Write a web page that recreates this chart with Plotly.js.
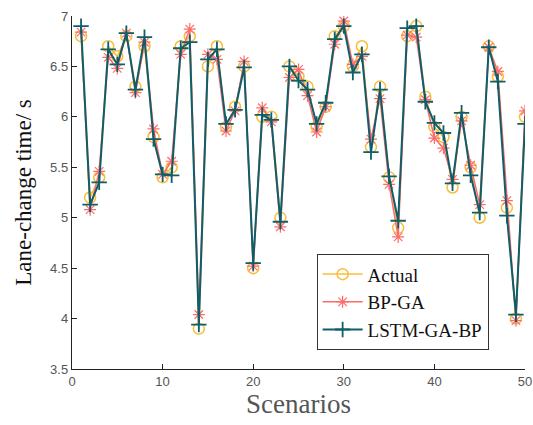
<!DOCTYPE html>
<html>
<head>
<meta charset="utf-8">
<script src="https://cdn.plot.ly/plotly-3.0.1.min.js"></script>
<style>html,body{margin:0;padding:0;background:#fff;}#chart{width:533px;height:425px;}</style>
</head>
<body>
<div id="chart"></div>
<script>
const scenarios = Array.from({length: 50}, (_, i) => i + 1);
const actual = [6.8,5.2,5.4,6.7,6.6,6.8,6.3,6.7,5.8,5.4,5.5,6.7,6.8,3.9,6.5,6.7,5.9,6.1,6.5,4.5,6.0,6.0,5.0,6.5,6.4,6.3,5.9,6.1,6.8,6.9,6.5,6.7,5.7,6.3,5.4,4.9,6.8,6.9,6.2,5.9,5.8,5.3,6.0,5.5,5.0,6.7,6.4,5.1,4.0,6.0];
const bpga = [6.84,5.08,5.46,6.59,6.48,6.83,6.24,6.74,5.88,5.43,5.56,6.62,6.87,4.04,6.62,6.57,5.86,6.06,6.55,4.52,6.09,5.95,4.91,6.39,6.47,6.21,5.85,6.10,6.72,6.95,6.52,6.60,5.78,6.18,5.33,4.81,6.81,6.79,6.17,5.79,5.69,5.38,5.96,5.52,5.13,6.69,6.45,5.17,3.98,6.06];
const lstm = [6.90,5.13,5.35,6.67,6.52,6.83,6.27,6.79,5.78,5.43,5.42,6.68,6.74,3.94,6.57,6.67,5.93,6.07,6.49,4.55,6.02,5.97,4.96,6.50,6.36,6.27,5.93,6.14,6.77,6.90,6.44,6.62,5.65,6.27,5.41,4.97,6.88,6.90,6.15,5.94,5.84,5.34,6.04,5.42,5.05,6.69,6.35,5.02,4.04,5.93];
const names = ['Actual', 'BP-GA', 'LSTM-GA-BP'];

const traces = [
  {x: scenarios, y: actual, name: names[0], mode: 'lines+markers',
   line: {color: '#F7BE3A', width: 1.5},
   marker: {symbol: 'circle-open', size: 11, color: '#F7BE3A', line: {width: 1.5}}},
  {x: scenarios, y: bpga, name: names[1], mode: 'lines+markers',
   line: {color: '#FF6B6B', width: 1.5},
   marker: {symbol: 'asterisk-open', size: 10, color: '#FF6B6B', line: {width: 1.2}}},
  {x: scenarios, y: lstm, name: names[2], mode: 'lines+markers',
   line: {color: '#0E5E6B', width: 2},
   marker: {symbol: 'cross-thin-open', size: 11, color: '#0E5E6B', line: {width: 1.8}}}
];

const layout = {
  width: 533, height: 425,
  margin: {l: 72, r: 8, t: 16, b: 56},
  paper_bgcolor: '#fff', plot_bgcolor: '#fff',
  showlegend: true,
  legend: {x: 0.54, y: 0.325, xanchor: 'left', yanchor: 'top',
    bgcolor: '#fff', bordercolor: '#333', borderwidth: 1,
    font: {family: 'Liberation Serif, Times New Roman, serif', size: 19, color: '#111'},
    tracegroupgap: 0, itemwidth: 40},
  xaxis: {range: [0, 50], tickvals: [0,10,20,30,40,50], ticks: 'inside', ticklen: 5,
    ticklabeloverflow: 'allow',
    showgrid: false, zeroline: false, showline: true, linecolor: '#222', linewidth: 1.2,
    tickcolor: '#222',
    tickfont: {family: 'Liberation Sans, Arial, sans-serif', size: 13, color: '#555'},
    title: {text: 'Scenarios', font: {family: 'Liberation Serif, Times New Roman, serif', size: 27, color: '#555'}, standoff: 6}},
  yaxis: {range: [3.5, 7], dtick: 0.5, tick0: 3.5, ticks: 'inside', ticklen: 5,
    showgrid: false, zeroline: false, showline: true, linecolor: '#222', linewidth: 1.2,
    tickcolor: '#222',
    tickfont: {family: 'Liberation Sans, Arial, sans-serif', size: 13, color: '#555'},
    title: {text: 'Lane-change time/ s', font: {family: 'Liberation Serif, Times New Roman, serif', size: 23, color: '#111'}, standoff: 12}}
};

Plotly.newPlot('chart', traces, layout, {displayModeBar: false, staticPlot: true});
</script>
</body>
</html>
